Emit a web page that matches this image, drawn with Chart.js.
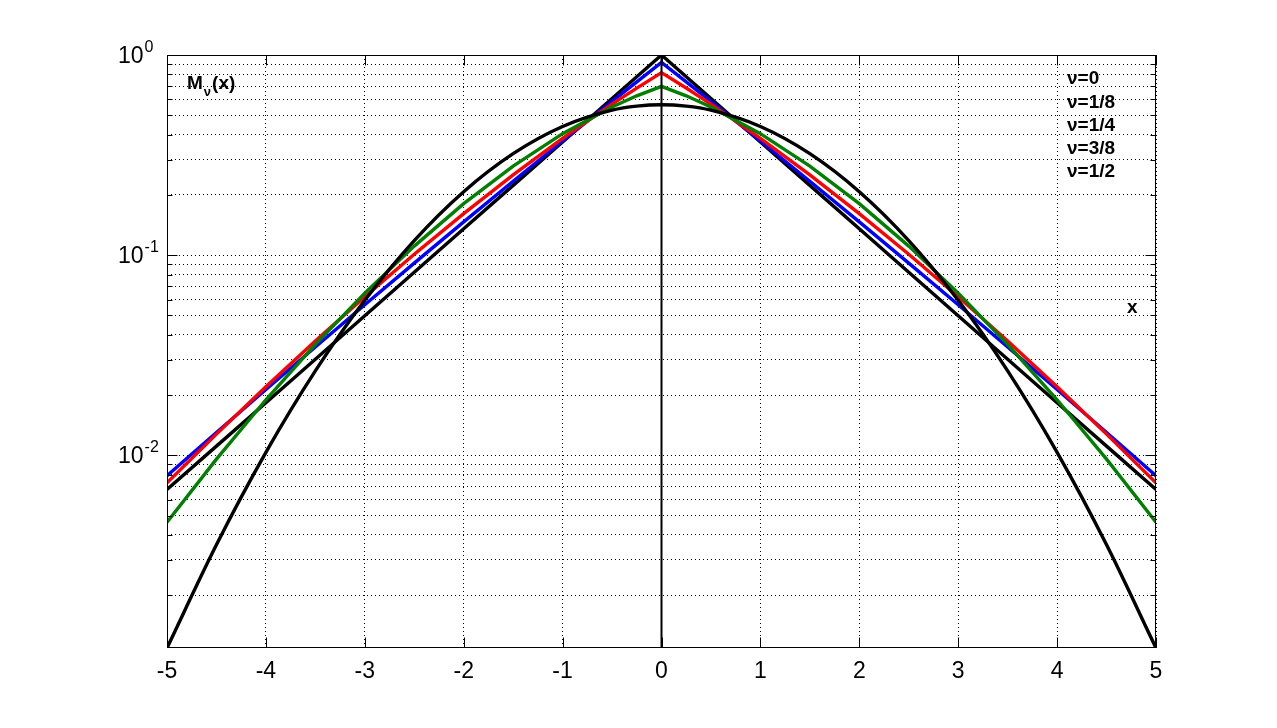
<!DOCTYPE html>
<html><head><meta charset="utf-8">
<script src="https://cdn.jsdelivr.net/npm/chart.js@4.4.1/dist/chart.umd.min.js"></script>
<style>html,body{margin:0;padding:0;background:#fff}#wrap{width:1277px;height:728px}</style>
</head><body><div id="wrap"><canvas id="c" width="1277" height="728"></canvas></div>
<script>
// ---- data ----
const xVals = [-5,-4.5,-4,-3.5,-3,-2.5,-2,-1.5,-1,-0.5,-0.25,0,0.25,0.5,1,1.5,2,2.5,3,3.5,4,4.5,5];
const mNu0  = [0.006738,0.011109,0.018316,0.030197,0.049787,0.082085,0.135335,0.22313,0.367879,0.606531,0.778801,1,0.778801,0.606531,0.367879,0.22313,0.135335,0.082085,0.049787,0.030197,0.018316,0.011109,0.006738];
const mNu18 = [0.0079,0.013,0.02131,0.03477,0.056465,0.091215,0.146558,0.234107,0.371654,0.586113,0.734094,0.917725,0.734094,0.586113,0.371654,0.234107,0.146558,0.091215,0.056465,0.03477,0.02131,0.013,0.0079];
const mNu14 = [0.007285,0.012755,0.021974,0.037215,0.061909,0.10097,0.161246,0.251723,0.383335,0.567969,0.683589,0.816049,0.683589,0.567969,0.383335,0.251723,0.161246,0.10097,0.061909,0.037215,0.021974,0.012755,0.007285];
const mNu38 = [0.004628,0.009569,0.01894,0.035821,0.064621,0.11094,0.18088,0.278706,0.404553,0.550367,0.625274,0.697097,0.625274,0.550367,0.404553,0.278706,0.18088,0.11094,0.064621,0.035821,0.01894,0.009569,0.004628];
const mNu12 = [0.001089,0.003571,0.010334,0.026388,0.059465,0.11826,0.207554,0.321465,0.439391,0.530007,0.555443,0.56419,0.555443,0.530007,0.439391,0.321465,0.207554,0.11826,0.059465,0.026388,0.010334,0.003571,0.001089];
const zeroLineX = [0, 0];
const zeroLineY = [0.001089, 1];
const seriesLabels = ['\u03bd=0','\u03bd=1/8','\u03bd=1/4','\u03bd=3/8','\u03bd=1/2'];
const xTickVals = [-5,-4,-3,-2,-1,0,1,2,3,4,5];
const xTickLabels = ['-5','-4','-3','-2','-1','0','1','2','3','4','5'];
const yMajorVals = [1, 0.1, 0.01];
const yMajorExps = ['0','-1','-2'];
const yDecades = [0.001, 0.01, 0.1];
const yMults = [1,2,3,4,5,6,7,8,9];
const Y_MIN = 0.001089, Y_MAX = 1;

const yGridVals = [];
yDecades.forEach(d => yMults.forEach(m => { const v = +(d*m).toPrecision(6); if (v > Y_MIN) yGridVals.push(v); }));
yGridVals.push(1);

const FONT = '"Liberation Sans", Arial, Helvetica, sans-serif';
const pts = ys => xVals.map((x,i) => ({x:x, y:ys[i]}));

const datasets = [
  {label:seriesLabels[0], data:pts(mNu0),  borderColor:'#000000', order:5},
  {label:seriesLabels[1], data:pts(mNu18), borderColor:'#0000ff', order:4},
  {label:seriesLabels[2], data:pts(mNu14), borderColor:'#ff0000', order:3},
  {label:seriesLabels[3], data:pts(mNu38), borderColor:'#008000', order:2},
  {label:seriesLabels[4], data:pts(mNu12), borderColor:'#000000', order:1, cubicInterpolationMode:'monotone'},
  {label:'axis0', data:zeroLineX.map((x,i)=>({x:x,y:zeroLineY[i]})), borderColor:'#000000', borderWidth:2, order:0}
].map(d => Object.assign({borderWidth:3.4, pointRadius:0, fill:false, tension:0}, d));

const decor = {
  id:'decor',
  afterDraw(chart){
    const ctx = chart.ctx, a = chart.chartArea;
    const xs = chart.scales.x, ys = chart.scales.y;
    ctx.save();
    ctx.strokeStyle = '#000'; ctx.lineWidth = 1;
    // frame
    const L = Math.round(a.left)+0.5, R = Math.round(a.right)-0.5, T = Math.round(a.top)+0.5, B = Math.round(a.bottom)-0.5;
    ctx.beginPath(); ctx.rect(L, T, R-L, B-T); ctx.stroke();
    // inward ticks
    ctx.beginPath();
    xTickVals.forEach(v => { const p = Math.round(xs.getPixelForValue(v))+0.5; ctx.moveTo(p,B); ctx.lineTo(p,B-10); ctx.moveTo(p,T); ctx.lineTo(p,T+10); });
    yGridVals.forEach(v => { const p = Math.round(ys.getPixelForValue(v))+0.5; const len = yMajorVals.includes(v) ? 10 : 5;
      ctx.moveTo(L,p); ctx.lineTo(L+len,p); ctx.moveTo(R,p); ctx.lineTo(R-len,p); });
    ctx.stroke();
    // x tick labels
    ctx.fillStyle = '#000';
    ctx.font = '23px ' + FONT; ctx.textAlign = 'center'; ctx.textBaseline = 'alphabetic';
    xTickVals.forEach((v,i) => ctx.fillText(xTickLabels[i], xs.getPixelForValue(v), 678));
    // y tick labels 10^n
    ctx.textAlign = 'left';
    yMajorVals.forEach((v,i) => {
      const p = ys.getPixelForValue(v);
      ctx.font = '23px ' + FONT;
      ctx.fillText('10', 118, p + 8);
      const w = ctx.measureText('10').width;
      ctx.font = '16px ' + FONT;
      ctx.fillText(yMajorExps[i], 118 + w + 1, p - 3);
    });
    // y label M_nu(x)
    ctx.font = 'bold 19px ' + FONT;
    ctx.fillText('M', 187, 89);
    const wm = ctx.measureText('M').width;
    ctx.font = 'bold 13px ' + FONT;
    ctx.fillText('\u03bd', 187 + wm + 1, 96);
    const wn = ctx.measureText('\u03bd').width;
    ctx.font = 'bold 19px ' + FONT;
    ctx.fillText('(x)', 187 + wm + wn + 2, 89);
    // x label
    ctx.fillText('x', 1127, 313);
    // series labels (text legend)
    const base = [84, 108, 131, 154, 177];
    seriesLabels.forEach((s,i) => ctx.fillText(s, 1067, base[i]));
    ctx.restore();
  }
};

new Chart(document.getElementById('c'), {
  type:'line',
  data:{datasets},
  options:{
    responsive:false, animation:false, devicePixelRatio:1,
    layout:{padding:{left:167, right:121, top:55, bottom:80}},
    plugins:{legend:{display:false}, tooltip:{enabled:false}},
    scales:{
      x:{type:'linear', min:-5, max:5,
         afterBuildTicks: s => { s.ticks = xTickVals.map(v => ({value:v})); },
         afterFit: s => { s.height = 0; },
         ticks:{display:false}, border:{display:false, dash:[1,3]},
         grid:{drawTicks:false, color:'#000', lineWidth:1}},
      y:{type:'logarithmic', min:Y_MIN, max:Y_MAX,
         afterBuildTicks: s => { s.ticks = yGridVals.map(v => ({value:v})); },
         afterFit: s => { s.width = 0; },
         ticks:{display:false}, border:{display:false, dash:[1,3]},
         grid:{drawTicks:false, color:'#000', lineWidth:1}}
    }
  },
  plugins:[decor]
});
</script></body></html>
